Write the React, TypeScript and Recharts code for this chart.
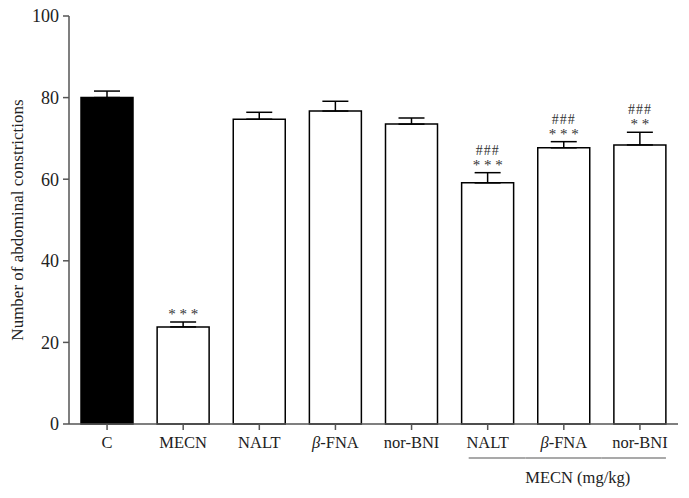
import React from 'react';
import { BarChart, Bar, XAxis, YAxis, ErrorBar, Cell, LabelList } from 'recharts';

const groups = ['C', 'MECN', 'NALT', 'β-FNA', 'nor-BNI', 'NALT', 'β-FNA', 'nor-BNI'];
const means = [80, 23.8, 74.7, 76.7, 73.5, 59.1, 67.7, 68.4];
const sem = [1.6, 1.2, 1.7, 2.4, 1.5, 2.5, 1.5, 3.1];
const stars = ['', '* * *', '', '', '', '* * *', '* * *', '* *'];
const hashes = ['', '', '', '', '', '###', '###', '###'];
const fills = ['#000000', '#ffffff', '#ffffff', '#ffffff', '#ffffff', '#ffffff', '#ffffff', '#ffffff'];
const yTicks = [0, 20, 40, 60, 80, 100];

const data = groups.map((g, i) => ({
  id: i,
  name: g,
  value: means[i],
  err: [0, sem[i]],
}));

const FONT = '"Liberation Serif", "DejaVu Serif", serif';
const AXIS = '#555555';
const TEXT = '#222222';

const XTick = (props: any) => {
  const { x, y, payload } = props;
  const i = payload.index ?? payload.value;
  const label = groups[i];
  const isBeta = label.startsWith('β');
  return (
    <g>
      <text x={x} y={y + 16} textAnchor="middle" fontFamily={FONT} fontSize={16.5} fill={TEXT}>
        {isBeta ? (
          <>
            <tspan fontStyle="italic">β</tspan>
            <tspan>{label.slice(1)}</tspan>
          </>
        ) : (
          label
        )}
      </text>
      {i >= 5 && (
        <line
          x1={i === 5 ? x - 19 : x - 38}
          x2={i === 7 ? x + 26 : x + 38}
          y1={y + 26}
          y2={y + 26}
          stroke={AXIS}
          strokeWidth={1.2}
        />
      )}
      {i === 6 && (
        <text x={x + 14} y={y + 51} textAnchor="middle" fontFamily={FONT} fontSize={16.5} fill={TEXT}>
          MECN (mg/kg)
        </text>
      )}
    </g>
  );
};

const Marks = (props: any) => {
  const { x, y, width, height, index } = props;
  const s = stars[index];
  const h = hashes[index];
  if (!s && !h) return null;
  const pxPerUnit = height / means[index];
  const capY = y - sem[index] * pxPerUnit;
  const cx = x + width / 2;
  return (
    <g>
      <text x={cx} y={capY - 3} fontSize={15} fontFamily={FONT} fill="#333" textAnchor="middle">
        {s}
      </text>
      {h && (
        <text
          x={cx}
          y={capY - 18}
          fontSize={14}
          fontFamily={FONT}
          fill="#333"
          textAnchor="middle"
          letterSpacing={1}
        >
          {h}
        </text>
      )}
    </g>
  );
};

const YLabel = (props: any) => {
  const { viewBox } = props;
  const cx = 17;
  const cy = viewBox.y + viewBox.height / 2;
  return (
    <text
      x={cx}
      y={cy}
      transform={`rotate(-90, ${cx}, ${cy})`}
      textAnchor="middle"
      dominantBaseline="central"
      fontFamily={FONT}
      fontSize={17}
      fill={TEXT}
    >
      Number of abdominal constrictions
    </text>
  );
};

export default function App() {
  return (
    <div style={{ position: 'absolute', left: 0, top: 0, background: '#fff' }}>
      <BarChart
        width={689}
        height={498}
        data={data}
        margin={{ top: 16, right: 11, left: 0, bottom: 44 }}
        barSize={52}
      >
        <XAxis
          dataKey="id"
          height={30}
          tick={<XTick />}
          tickSize={6}
          tickMargin={2}
          stroke={AXIS}
          strokeWidth={1.5}
          tickLine={{ stroke: AXIS, strokeWidth: 1.5 }}
        />
        <YAxis
          width={69}
          domain={[0, 100]}
          ticks={yTicks}
          tickSize={6}
          tickMargin={4}
          stroke={AXIS}
          strokeWidth={1.5}
          tick={{ fontFamily: FONT, fontSize: 18, fill: TEXT }}
          label={<YLabel />}
        />
        <Bar dataKey="value" stroke="#000" strokeWidth={1.5} isAnimationActive={false}>
          {data.map((d, i) => (
            <Cell key={`c-${i}`} fill={fills[i]} />
          ))}
          <ErrorBar dataKey="err" width={13} stroke="#000" strokeWidth={1.5} />
          <LabelList dataKey="value" content={<Marks />} />
        </Bar>
      </BarChart>
    </div>
  );
}
